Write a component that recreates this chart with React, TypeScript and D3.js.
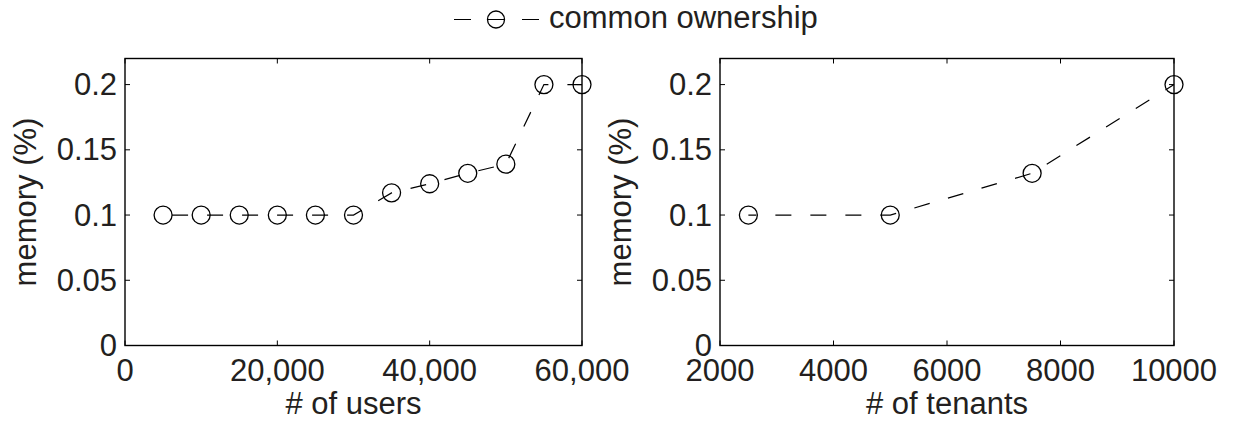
import React from "react";
import * as d3 from "d3";

const usersX = [5000, 10000, 15000, 20000, 25000, 30000, 35000, 40000, 45000, 50000, 55000, 60000];
const usersY = [0.1, 0.1, 0.1, 0.1, 0.1, 0.1, 0.117, 0.124, 0.132, 0.139, 0.2, 0.2];
const tenantsX = [2500, 5000, 7500, 10000];
const tenantsY = [0.1, 0.1, 0.132, 0.2];
const yTicks = [0, 0.05, 0.1, 0.15, 0.2];
const yTickLabels = ["0", "0.05", "0.1", "0.15", "0.2"];
const usersTicks = [0, 20000, 40000, 60000];
const usersTickLabels = ["0", "20,000", "40,000", "60,000"];
const tenantsTicks = [2000, 4000, 6000, 8000, 10000];
const tenantsTickLabels = ["2000", "4000", "6000", "8000", "10000"];
const legendLabel = "common ownership";

const FONT = "'Liberation Sans', Arial, Helvetica, sans-serif";
const TXT = "#231f20";
const FS = 31;
const DASH = "16,19";

type PanelProps = {
  left: number;
  right: number;
  xDomain: [number, number];
  xs: number[];
  ys: number[];
  xTicks: number[];
  xTickLabels: string[];
  xLabel: string;
  dashOffset: number;
};

const TOP = 58.5;
const BOTTOM = 345.5;

function Panel(p: PanelProps) {
  const x = d3.scaleLinear().domain(p.xDomain).range([p.left, p.right]);
  const y = d3.scaleLinear().domain([0, 0.22]).range([BOTTOM, TOP]);
  const line = d3
    .line<number>()
    .x((_, i) => x(p.xs[i]))
    .y((d) => y(d));
  const tickLen = 5;
  return (
    <g>
      <path
        d={line(p.ys) || ""}
        fill="none"
        stroke="#000"
        strokeWidth={1.2}
        strokeDasharray={DASH}
        strokeDashoffset={p.dashOffset}
      />
      {p.ys.map((d, i) => (
        <circle key={i} cx={x(p.xs[i])} cy={y(d)} r={9} fill="none" stroke="#000" strokeWidth={1.3} />
      ))}
      {p.xTicks.map((t, i) => (
        <g key={"xt" + i}>
          <line x1={x(t)} x2={x(t)} y1={BOTTOM} y2={BOTTOM - tickLen} stroke="#000" strokeWidth={1} />
          <line x1={x(t)} x2={x(t)} y1={TOP} y2={TOP + tickLen} stroke="#000" strokeWidth={1} />
          <text x={x(t)} y={381} textAnchor="middle" fontSize={FS} fontFamily={FONT} fill={TXT}>
            {p.xTickLabels[i]}
          </text>
        </g>
      ))}
      {yTicks.map((t, i) => (
        <g key={"yt" + i}>
          <line x1={p.left} x2={p.left + tickLen} y1={y(t)} y2={y(t)} stroke="#000" strokeWidth={1} />
          <line x1={p.right} x2={p.right - tickLen} y1={y(t)} y2={y(t)} stroke="#000" strokeWidth={1} />
          <text
            x={p.left - 8}
            y={y(t)}
            textAnchor="end"
            dominantBaseline="central"
            fontSize={FS}
            fontFamily={FONT}
            fill={TXT}
          >
            {yTickLabels[i]}
          </text>
        </g>
      ))}
      <rect
        x={p.left}
        y={TOP}
        width={p.right - p.left}
        height={BOTTOM - TOP}
        fill="none"
        stroke="#000"
        strokeWidth={1.4}
      />
      <text
        x={(p.left + p.right) / 2}
        y={414}
        textAnchor="middle"
        fontSize={FS}
        fontFamily={FONT}
        fill={TXT}
      >
        {p.xLabel}
      </text>
      <text
        transform={`translate(${p.left - 89},${(TOP + BOTTOM) / 2}) rotate(-90)`}
        textAnchor="middle"
        fontSize={FS}
        fontFamily={FONT}
        fill={TXT}
      >
        memory (%)
      </text>
    </g>
  );
}

export default function App() {
  return (
    <svg
      width={1233}
      height={423}
      style={{ position: "absolute", left: 0, top: 0, background: "#fff" }}
    >
      <rect x={0} y={0} width={1233} height={423} fill="#fff" />
      <line x1={454} x2={539} y1={19.5} y2={19.5} stroke="#000" strokeWidth={1.2} strokeDasharray="17,17" />
      <circle cx={496} cy={19.5} r={8.5} fill="none" stroke="#000" strokeWidth={1.3} />
      <text x={549} y={28} fontSize={FS} fontFamily={FONT} fill={TXT}>
        {legendLabel}
      </text>
      <Panel
        left={125}
        right={582}
        xDomain={[0, 60000]}
        xs={usersX}
        ys={usersY}
        xTicks={usersTicks}
        xTickLabels={usersTickLabels}
        xLabel="# of users"
        dashOffset={26}
      />
      <Panel
        left={720}
        right={1174}
        xDomain={[2000, 10000]}
        xs={tenantsX}
        ys={tenantsY}
        xTicks={tenantsTicks}
        xTickLabels={tenantsTickLabels}
        xLabel="# of tenants"
        dashOffset={8}
      />
    </svg>
  );
}
